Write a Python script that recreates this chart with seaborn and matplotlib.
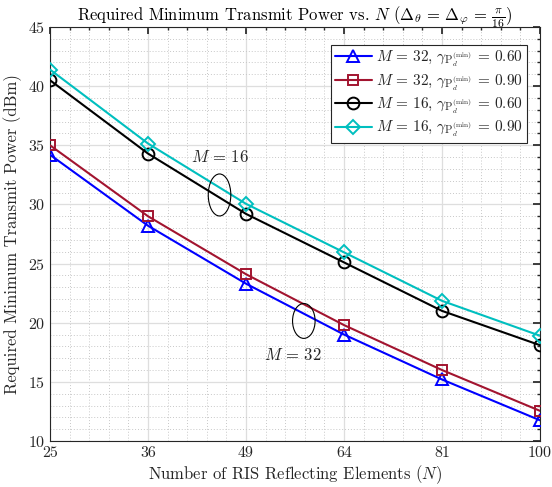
import numpy as np
import pandas as pd
import matplotlib
matplotlib.use("Agg")
import matplotlib.pyplot as plt
from matplotlib.patches import Ellipse
from matplotlib.ticker import MultipleLocator, AutoMinorLocator
import seaborn as sns

# ---- data ----
N_values = [25, 36, 49, 64, 81, 100]
p_m32_g060 = [34.2, 28.2, 23.3, 19.0, 15.2, 11.75]
p_m32_g090 = [35.0, 29.0, 24.1, 19.8, 16.0, 12.55]
p_m16_g060 = [40.5, 34.3, 29.2, 25.1, 21.0, 18.1]
p_m16_g090 = [41.4, 35.15, 30.05, 25.95, 21.85, 18.9]
series_labels = [
    r'$M\,=\,32,\,\gamma_{\mathrm{P}_d^{(\min)}}\,=\,0.60$',
    r'$M\,=\,32,\,\gamma_{\mathrm{P}_d^{(\min)}}\,=\,0.90$',
    r'$M\,=\,16,\,\gamma_{\mathrm{P}_d^{(\min)}}\,=\,0.60$',
    r'$M\,=\,16,\,\gamma_{\mathrm{P}_d^{(\min)}}\,=\,0.90$',
]
series_values = [p_m32_g060, p_m32_g090, p_m16_g060, p_m16_g090]

sns.set_theme(style="white")
plt.rcParams['font.family'] = ['cmr10', 'DejaVu Serif']
plt.rcParams['mathtext.fontset'] = 'cm'
plt.rcParams['axes.formatter.use_mathtext'] = True
plt.rcParams['axes.unicode_minus'] = False

GRAY = '#262626'
colors = ['#0000ff', '#a2142f', '#000000', '#00bfbf']
markers = ['^', 's', 'o', 'D']
msizes = [9, 7, 8.5, 7.5]

rows = []
for lab, vals in zip(series_labels, series_values):
    for i, (n, v) in enumerate(zip(N_values, vals)):
        rows.append({'series': lab, 'pos': i, 'N': n, 'power': v})
df = pd.DataFrame(rows)

fig = plt.figure(figsize=(5.52, 4.87), dpi=100)
ax = fig.add_axes([50/552, 1-441/487, 490/552, 414/487])

for lab, c, m, ms in zip(series_labels, colors, markers, msizes):
    sub = df[df['series'] == lab]
    sns.lineplot(data=sub, x='pos', y='power', ax=ax, color=c, marker=m,
                 markersize=ms, markerfacecolor='none', markeredgecolor=c,
                 markeredgewidth=1.4, linewidth=1.5, label=lab, zorder=3)

ax.set_xlim(0, len(N_values) - 1)
ax.set_ylim(10, 45)
ax.set_xticks(range(len(N_values)))
ax.set_xticklabels([str(n) for n in N_values])
ax.yaxis.set_major_locator(MultipleLocator(5))
ax.yaxis.set_minor_locator(MultipleLocator(1))
ax.xaxis.set_minor_locator(AutoMinorLocator(5))

ax.grid(True, which='major', color='#dedede', linewidth=0.9, linestyle='-')
ax.grid(True, which='minor', color='#c8c8c8', linewidth=0.7, linestyle=(0, (1, 2)))
ax.set_axisbelow(True)

for s in ax.spines.values():
    s.set_color(GRAY)
    s.set_linewidth(0.8)
ax.tick_params(which='both', direction='in', top=True, right=True,
               colors=GRAY, labelcolor=GRAY, labelsize=11.5)
ax.tick_params(which='major', length=5)
ax.tick_params(which='minor', length=2.5)

ax.set_xlabel(r'Number of RIS Reflecting Elements ($N$)', fontsize=12, color=GRAY, labelpad=3)
ax.set_ylabel('Required Minimum Transmit Power (dBm)', fontsize=12, color=GRAY, labelpad=4)
ax.set_title(r'Required Minimum Transmit Power vs. $N$ ($\Delta_\theta\,=\,\Delta_\varphi\,=\,\frac{\pi}{16}$)',
             fontsize=12, color='black', pad=5)

leg = ax.legend(loc='upper right', bbox_to_anchor=(1 - 13/490, 1 - 18/414),
                fontsize=11, frameon=True, fancybox=False,
                framealpha=1, edgecolor='#262626', borderpad=0.25,
                labelspacing=0.2, handlelength=2.4, handletextpad=0.3,
                borderaxespad=0.0)
leg.get_frame().set_linewidth(0.8)

# annotations
ax.add_patch(Ellipse((1.73, 30.8), 0.23, 3.55, fill=False, edgecolor='black', linewidth=0.8, zorder=4))
ax.text(1.73, 34.0, r'$M\,=\,16$', ha='center', va='center', fontsize=12)
ax.add_patch(Ellipse((2.59, 20.15), 0.23, 2.95, fill=False, edgecolor='black', linewidth=0.8, zorder=4))
ax.text(2.48, 17.3, r'$M\,=\,32$', ha='center', va='center', fontsize=12)

fig.savefig('out.png', dpi=100)
